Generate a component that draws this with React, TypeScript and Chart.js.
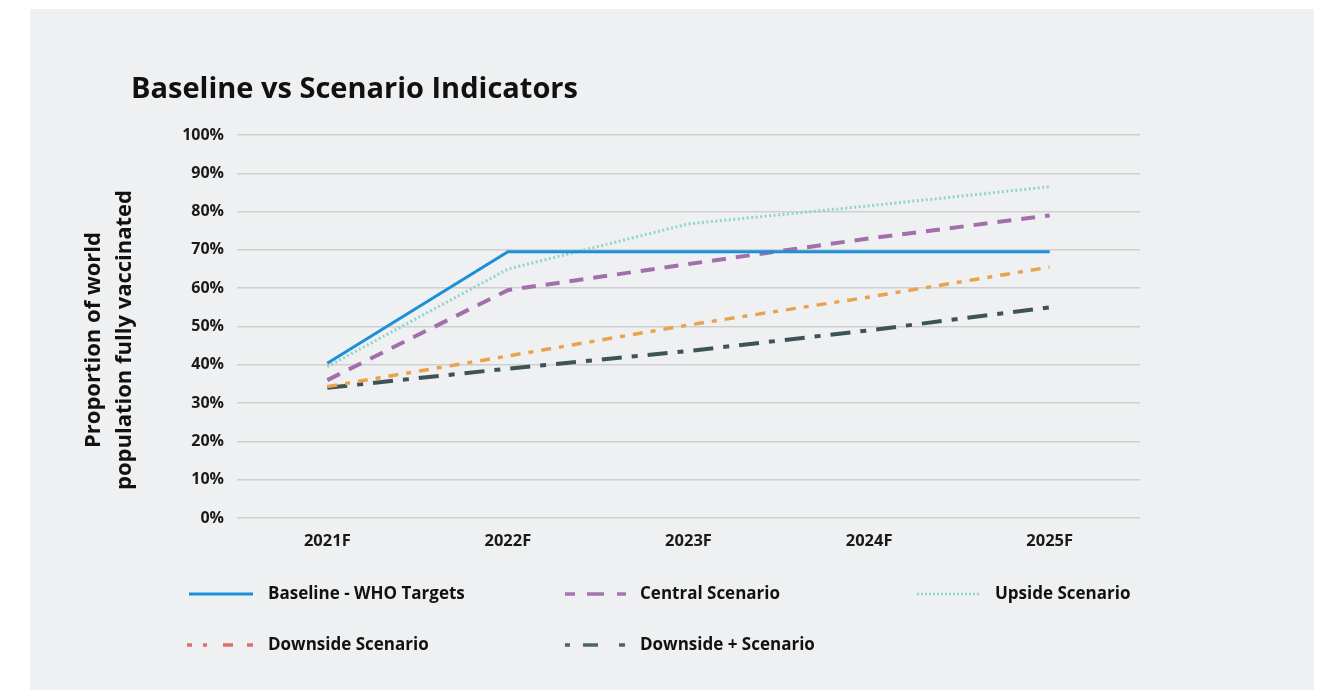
import React, { useEffect, useRef } from "react";
import { Chart, registerables } from "chart.js";

Chart.register(...registerables);

const categories = ["2021F", "2022F", "2023F", "2024F", "2025F"];
const baselineWHO = [40.4, 69.5, 69.5, 69.5, 69.5];
const centralScenario = [36, 59.5, 66.3, 73, 79];
const upsideScenario = [39.5, 65, 76.8, 81.5, 86.5];
const downsideScenario = [34.3, 42.3, 50.4, 57.7, 65.5];
const downsidePlusScenario = [34, 39, 43.6, 49, 55];
const seriesNames = [
  "Baseline - WHO Targets",
  "Central Scenario",
  "Upside Scenario",
  "Downside Scenario",
  "Downside + Scenario",
];
const titleText = "Baseline vs Scenario Indicators";
const yAxisTitle = ["Proportion of world", "population fully vaccinated"];

const FONT = "'Open Sans', Lato, sans-serif";

const lineStyles = [
  { color: "#1b8fd8", width: 3, dash: [] as number[] },
  { color: "#a36fab", width: 4, dash: [14, 10] },
  { color: "#8fd6c8", width: 3, dash: [2, 2.5] },
  { color: "#eba24f", width: 3.5, dash: [10, 8, 5, 8] },
  { color: "#3d5356", width: 4, dash: [20, 10, 6, 10] },
];

const legendStyles = [
  { color: "#1b8fd8", width: 3, dash: [] as number[], x0: 159, x1: 223, tx: 238, row: 0 },
  { color: "#a874b0", width: 3.5, dash: [10, 12, 17, 13, 9], x0: 535, x1: 596, tx: 610, row: 0 },
  { color: "#8fd6c8", width: 2.5, dash: [2, 2], x0: 887, x1: 951, tx: 965, row: 0 },
  { color: "#d9706a", width: 3.5, dash: [5, 11, 4, 16, 10, 14, 6], x0: 157, x1: 223, tx: 238, row: 1 },
  { color: "#4d6465", width: 3.5, dash: [5, 13, 15, 21, 6], x0: 535, x1: 596, tx: 610, row: 1 },
];
const legendRowsY = [585, 636];

const decorPlugin = {
  id: "decor",
  afterDraw(chart: any) {
    const ctx = chart.ctx as CanvasRenderingContext2D;
    ctx.save();
    // title
    ctx.fillStyle = "#111";
    ctx.font = `bold 29px ${FONT}`;
    ctx.textAlign = "left";
    ctx.textBaseline = "alphabetic";
    ctx.fillText(titleText, 101, 89);
    // y-axis title (two rotated lines)
    ctx.save();
    ctx.translate(0, 331);
    ctx.rotate(-Math.PI / 2);
    ctx.font = `bold 22px ${FONT}`;
    ctx.textAlign = "center";
    ctx.textBaseline = "middle";
    ctx.fillText(yAxisTitle[0], 0, 64);
    ctx.fillText(yAxisTitle[1], 0, 95);
    ctx.restore();
    // legend
    chart.data.datasets.forEach((ds: any, i: number) => {
      const st = legendStyles[i];
      const y = legendRowsY[st.row];
      ctx.beginPath();
      ctx.strokeStyle = st.color;
      ctx.lineWidth = st.width;
      ctx.setLineDash(st.dash);
      ctx.moveTo(st.x0, y);
      ctx.lineTo(st.x1, y);
      ctx.stroke();
      ctx.setLineDash([]);
      ctx.fillStyle = "#111";
      ctx.font = `bold 17px ${FONT}`;
      ctx.textAlign = "left";
      ctx.textBaseline = "middle";
      ctx.fillText(ds.label, st.tx, y);
    });
    ctx.restore();
  },
};

export default function App() {
  const ref = useRef<HTMLCanvasElement | null>(null);

  useEffect(() => {
    if (!ref.current) return;
    const values = [
      baselineWHO,
      centralScenario,
      upsideScenario,
      downsideScenario,
      downsidePlusScenario,
    ];
    const chart = new Chart(ref.current, {
      type: "line",
      data: {
        labels: categories,
        datasets: values.map((v, i) => ({
          label: seriesNames[i],
          data: v,
          borderColor: lineStyles[i].color,
          backgroundColor: lineStyles[i].color,
          borderWidth: lineStyles[i].width,
          borderDash: lineStyles[i].dash,
          pointRadius: 0,
          tension: 0,
          fill: false,
        })),
      },
      options: {
        responsive: false,
        animation: false,
        devicePixelRatio: 1,
        layout: { padding: { left: 48, top: 126, right: 174, bottom: 140 } },
        plugins: {
          legend: { display: false },
          title: { display: false },
          tooltip: { enabled: false },
        },
        scales: {
          x: {
            offset: true,
            grid: { display: false, drawTicks: false },
            border: { display: false },
            ticks: {
              padding: 13,
              color: "#1a1a1a",
              font: { family: FONT, size: 16.5, weight: "bold" },
            },
            afterFit: (s: any) => {
              s.height = 32;
            },
          },
          y: {
            min: 0,
            max: 100,
            grid: { color: "#cfcfcf", lineWidth: 1.5, drawTicks: false },
            border: { display: false },
            ticks: {
              stepSize: 10,
              padding: 13,
              color: "#1a1a1a",
              font: { family: FONT, size: 16, weight: "bold" },
              callback: (v: any) => `${v}%`,
            },
            title: { display: false },
            afterFit: (s: any) => {
              s.width = 159;
            },
          },
        },
      },
      plugins: [decorPlugin],
    } as any);
    return () => chart.destroy();
  }, []);

  return (
    <div
      style={{
        position: "absolute",
        left: 0,
        top: 0,
        width: 1322,
        height: 690,
        background: "#ffffff",
        overflow: "hidden",
      }}
    >
      <div
        style={{
          position: "absolute",
          left: 30,
          top: 9,
          width: 1284,
          height: 681,
          background: "#eef0f1",
        }}
      >
        <canvas ref={ref} width={1284} height={681} style={{ display: "block" }} />
      </div>
    </div>
  );
}
